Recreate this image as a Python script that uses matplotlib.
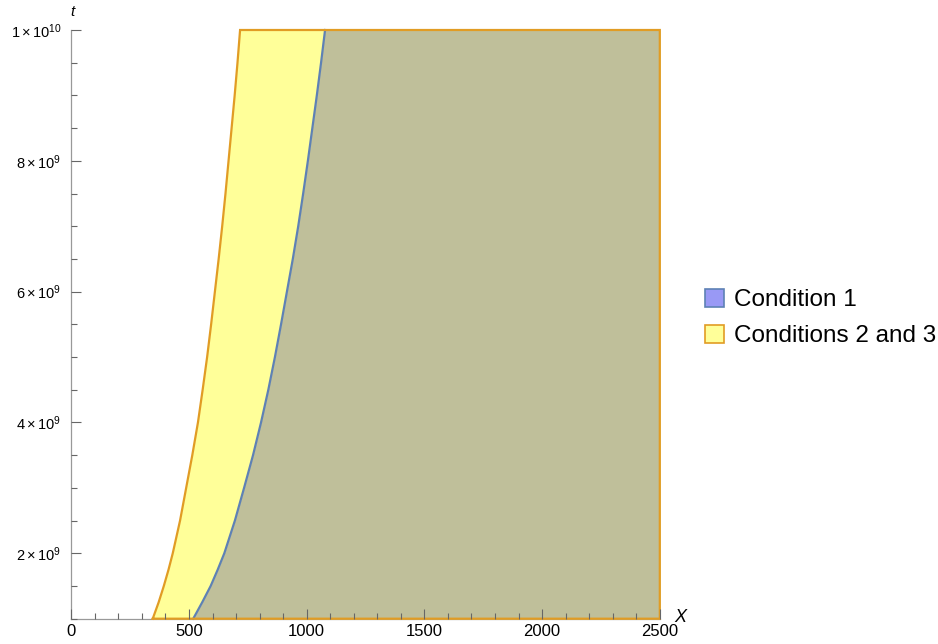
import matplotlib
matplotlib.use("Agg")
import matplotlib.pyplot as plt
from matplotlib.patches import Patch
import numpy as np

plt.rcParams['font.family'] = ['Liberation Sans', 'DejaVu Sans']
plt.rcParams['mathtext.fontset'] = 'custom'
plt.rcParams['mathtext.rm'] = 'Liberation Sans'
plt.rcParams['mathtext.it'] = 'Liberation Sans:italic'

# Boundary of "Conditions 2 and 3" region (t in units of 1e9)
cond23_t = [1.0, 1.25, 1.5, 1.75, 2.0, 2.5, 3.0, 3.5, 4.0, 4.5, 5.0, 5.5,
            6.0, 6.5, 7.0, 7.5, 8.0, 8.5, 9.0, 9.5, 10.0]
cond23_x = [346, 371, 393, 413, 431, 462, 488, 514, 538, 558, 577, 594,
            610, 626, 641, 655, 668, 681, 694, 706, 717]

# Boundary of "Condition 1" region (t in units of 1e9)
cond1_t = [1.0, 1.25, 1.5, 1.75, 2.0, 2.5, 3.0, 3.5, 4.0, 4.5, 5.0, 5.5,
           6.0, 6.5, 7.0, 7.5, 8.0, 8.5, 9.0, 9.5, 10.0]
cond1_x = [518, 556, 592, 622, 650, 695, 734, 772, 806, 837, 865, 891,
           916, 941, 964, 985, 1005, 1024, 1043, 1061, 1078]

x_max = 2500
t_min, t_max = 1e9, 1e10

x_ticks = [0, 500, 1000, 1500, 2000, 2500]
y_ticks = [2e9, 4e9, 6e9, 8e9, 1e10]
y_tick_labels = [r"$2\times10^{9}$", r"$4\times10^{9}$", r"$6\times10^{9}$",
                 r"$8\times10^{9}$", r"$1\times10^{10}$"]
legend_labels = ["Condition 1", "Conditions 2 and 3"]

c_blue = "#5E81B5"
c_orange = "#E19C24"
c_yellow_fill = "#FFFF99"
c_overlap = "#BFBF9A"
c_blue_fill = "#9999F5"

fig = plt.figure(figsize=(9.38, 6.44), dpi=100)
ax = fig.add_axes([71.3/938, 1 - 618.7/644, (659.8-71.3)/938, (618.7-30)/644])
ax.set_axisbelow(False)

t23 = np.array(cond23_t) * 1e9
t1 = np.array(cond1_t) * 1e9

ax.fill_betweenx(t23, cond23_x, x_max, color=c_yellow_fill, lw=0, zorder=1)
ax.fill_betweenx(t1, cond1_x, x_max, color=c_overlap, lw=0, zorder=1.1)
ax.plot(cond1_x, t1, color=c_blue, lw=1.6, zorder=2.2, clip_on=False)

ox = list(cond23_x) + [x_max, x_max, cond23_x[0]]
oy = list(t23) + [t_max, t_min, t_min]
ax.plot(ox, oy, color=c_orange, lw=1.6, zorder=2.3, clip_on=False, solid_joinstyle='miter')

ax.set_xlim(0, x_max)
ax.set_ylim(t_min, t_max)
ax.set_xticks(x_ticks)
ax.set_xticklabels([str(v) for v in x_ticks])
ax.set_xticks(np.arange(0, 2501, 100), minor=True)
ax.set_yticks(y_ticks)
ax.set_yticklabels(y_tick_labels)
ax.set_yticks(np.arange(1e9, 1.0001e10, 5e8), minor=True)

for s in ['top', 'right']:
    ax.spines[s].set_visible(False)
for s in ['left', 'bottom']:
    ax.spines[s].set_color('#999999')
    ax.spines[s].set_linewidth(0.9)
    ax.spines[s].set_zorder(0.5)

ax.tick_params(axis='both', which='both', direction='in', color='#666666', width=0.8)
ax.tick_params(axis='both', which='major', length=7)
ax.tick_params(axis='both', which='minor', length=4)
ax.tick_params(axis='x', which='major', labelsize=12, pad=4)
ax.tick_params(axis='y', which='major', labelsize=10.5, pad=7)

fig.text(72/938, 1 - 12/644, "t", fontsize=11, style='italic', ha='center', va='center')
fig.text(680/938, 1 - 618/644, "X", fontsize=13, style='italic', ha='center', va='center')

handles = [Patch(facecolor=c_blue_fill, edgecolor=c_blue, linewidth=1.2),
           Patch(facecolor=c_yellow_fill, edgecolor=c_orange, linewidth=1.2)]
fig.legend(handles, legend_labels, loc='center left',
           bbox_to_anchor=(705/938, 1 - 318/644), frameon=False, fontsize=17.5,
           handlelength=0.8, handleheight=0.8, handletextpad=0.4, labelspacing=0.55,
           borderpad=0, borderaxespad=0)

fig.savefig("out.png", dpi=100)
